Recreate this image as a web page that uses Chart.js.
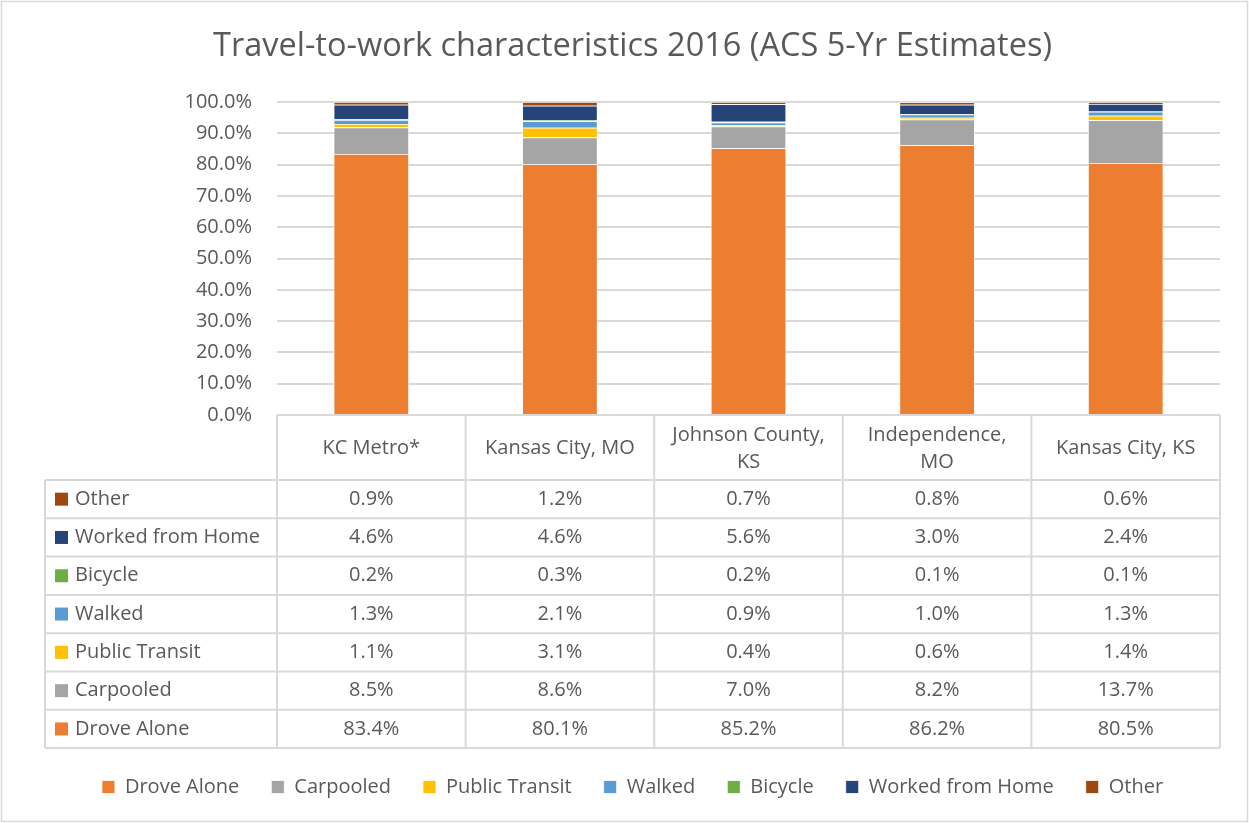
<!DOCTYPE html>
<html>
<head>
<meta charset="utf-8">
<script src="https://cdn.jsdelivr.net/npm/chart.js@4"></script>
<style>
  html, body { margin: 0; padding: 0; background: #fff; }
  canvas { display: block; }
</style>
</head>
<body>
<canvas id="travelChart" width="1249" height="823"></canvas>
<script>
// categories (multi-line header labels like the Excel data table)
const categories = [['KC Metro*'], ['Kansas City, MO'], ['Johnson County,', 'KS'], ['Independence,', 'MO'], ['Kansas City, KS']];

// series values, percent
const droveAlone = [83.4, 80.1, 85.2, 86.2, 80.5];
const carpooled = [8.5, 8.6, 7.0, 8.2, 13.7];
const publicTransit = [1.1, 3.1, 0.4, 0.6, 1.4];
const walked = [1.3, 2.1, 0.9, 1.0, 1.3];
const bicycle = [0.2, 0.3, 0.2, 0.1, 0.1];
const workedFromHome = [4.6, 4.6, 5.6, 3.0, 2.4];
const other = [0.9, 1.2, 0.7, 0.8, 0.6];

const yTicks = [0, 10, 20, 30, 40, 50, 60, 70, 80, 90, 100];

const textColor = '#595959';
const lineColor = '#D9D9D9';
const fontFamily = '"Open Sans", "Noto Sans", sans-serif';

// data table drawn under the plot, aligned with the x scale
const dataTablePlugin = {
    id: 'dataTable',
    beforeDraw(chart) {
        const ctx = chart.ctx;
        ctx.save();
        ctx.fillStyle = '#fff';
        ctx.fillRect(0, 0, chart.width, chart.height);
        ctx.strokeStyle = lineColor;
        ctx.lineWidth = 1.5;
        ctx.strokeRect(1.5, 1.5, chart.width - 3, chart.height - 3);
        ctx.restore();
    },
    afterDraw(chart) {
        const ctx = chart.ctx;
        const x = chart.scales.x;
        const area = chart.chartArea;
        const n = categories.length;
        const step = (area.right - area.left) / n;
        const top = area.bottom;
        const headerH = 65;
        const rowH = 38.3;
        const tableLeft = 45;
        const rows = chart.data.datasets.slice().reverse();
        const bottom = top + headerH + rowH * rows.length;

        ctx.save();
        ctx.strokeStyle = lineColor;
        ctx.lineWidth = 2;
        ctx.beginPath();
        // header top line
        ctx.moveTo(area.left, top);
        ctx.lineTo(area.right, top);
        // horizontal row lines
        for (let r = 0; r <= rows.length; r++) {
            const y = top + headerH + rowH * r;
            ctx.moveTo(tableLeft, y);
            ctx.lineTo(area.right, y);
        }
        // vertical lines
        for (let i = 0; i <= n; i++) {
            const vx = area.left + step * i;
            ctx.moveTo(vx, top);
            ctx.lineTo(vx, bottom);
        }
        ctx.moveTo(tableLeft, top + headerH);
        ctx.lineTo(tableLeft, bottom);
        ctx.stroke();

        ctx.fillStyle = textColor;
        ctx.font = '20px ' + fontFamily;
        ctx.textAlign = 'center';
        ctx.textBaseline = 'middle';
        // header labels
        categories.forEach((lines, i) => {
            const cx = x.getPixelForValue(i);
            const lh = 27;
            const y0 = top + headerH / 2 + 1 - (lines.length - 1) * lh / 2;
            lines.forEach((t, k) => ctx.fillText(t, cx, y0 + k * lh));
        });
        // rows
        rows.forEach((ds, r) => {
            const cy = top + headerH + rowH * r + rowH / 2;
            ctx.fillStyle = ds.backgroundColor;
            ctx.fillRect(tableLeft + 10, cy - 6.5, 13, 13);
            ctx.fillStyle = textColor;
            ctx.textAlign = 'left';
            ctx.fillText(ds.label, tableLeft + 30, cy);
            ctx.textAlign = 'center';
            ds.data.forEach((v, i) => {
                ctx.fillText(v.toFixed(1) + '%', x.getPixelForValue(i), cy);
            });
        });
        ctx.restore();
    }
};

function series(label, data, color) {
    return {
        label: label,
        data: data,
        backgroundColor: color,
        borderColor: '#ffffff',
        borderWidth: 0.8,
        barPercentage: 0.4,
        categoryPercentage: 1.0
    };
}

new Chart(document.getElementById('travelChart').getContext('2d'), {
    type: 'bar',
    data: {
        labels: categories,
        datasets: [
            series('Drove Alone', droveAlone, '#ED7D31'),
            series('Carpooled', carpooled, '#A5A5A5'),
            series('Public Transit', publicTransit, '#FFC000'),
            series('Walked', walked, '#5B9BD5'),
            series('Bicycle', bicycle, '#70AD47'),
            series('Worked from Home', workedFromHome, '#264478'),
            series('Other', other, '#9E480E')
        ]
    },
    plugins: [dataTablePlugin],
    options: {
        responsive: false,
        animation: false,
        layout: {
            padding: { left: 45, right: 29, top: 0, bottom: 16 }
        },
        plugins: {
            title: {
                display: true,
                text: 'Travel-to-work characteristics 2016 (ACS 5-Yr Estimates)',
                color: textColor,
                font: { family: fontFamily, size: 32.5, weight: 'normal' },
                padding: { top: 27, bottom: 36 }
            },
            legend: {
                position: 'bottom',
                labels: {
                    color: textColor,
                    font: { family: fontFamily, size: 20 },
                    boxWidth: 13,
                    boxHeight: 13,
                    padding: 32
                }
            },
            tooltip: { enabled: false }
        },
        scales: {
            x: {
                stacked: true,
                grid: { display: false },
                border: { display: false },
                ticks: { display: false },
                afterFit(scale) { scale.height = 330; }
            },
            y: {
                stacked: true,
                min: 0,
                max: 100,
                afterFit(scale) { scale.width = 232; },
                afterBuildTicks(scale) { scale.ticks = yTicks.map(v => ({ value: v })); },
                grid: { color: lineColor, lineWidth: 2, drawTicks: false },
                border: { display: false },
                ticks: {
                    color: textColor,
                    font: { family: fontFamily, size: 20 },
                    padding: 25,
                    callback: v => v.toFixed(1) + '%'
                }
            }
        }
    }
});
</script>
</body>
</html>
